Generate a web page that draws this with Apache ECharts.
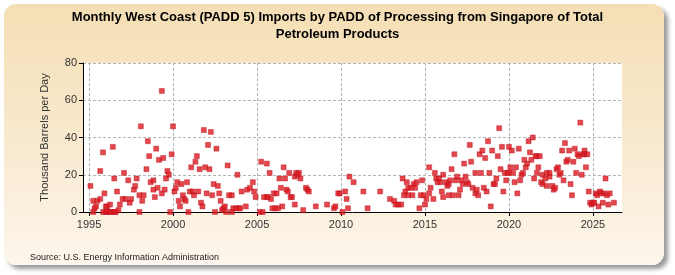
<!DOCTYPE html>
<html>
<head>
<meta charset="utf-8">
<script src="https://cdn.jsdelivr.net/npm/echarts@6/dist/echarts.min.js"></script>
<style>
  html, body { margin: 0; padding: 0; background: #fff; }
  #wrap { position: relative; width: 675px; height: 275px; overflow: hidden; }
  #panel {
    position: absolute; left: 4px; top: 4px; width: 660px; height: 261px;
    border-radius: 12px;
    background: linear-gradient(to bottom, #f5deb4 0%, #f9ebd3 60%, #fdf6ec 100%);
    box-shadow: 4px 4px 4px #9a9a9a;
  }
  #chart { position: absolute; left: 0; top: 0; width: 675px; height: 275px; }
</style>
</head>
<body>
<div id="wrap">
  <div id="panel"></div>
  <div id="chart"></div>
</div>
<script>
// [months since Jan 1995, thousand barrels per day]
const points1995 = [
  [1,14],[3,6],[3,0],[4,2],[5,3],[6,6],[8,7],[8,22],[10,32],[10,0],[11,10],[12,3],[12,0],[13,3],[13,0],
  [15,4],[15,0],[16,0],[17,35],[18,18],[18,0],[19,0],[20,11],[21,1],[22,4],[24,7],[25,21],[26,7],[28,17],
  [29,5],[30,7],[32,12],[33,14],[34,18],[36,9],[36,0],[37,46],[38,6],[39,9],[41,23],[42,38],[43,30],[44,16],
  [46,17],[46,12],[47,8],[48,34],[49,13],[50,28],[52,65],[52,10],[53,29],[54,12],[55,18],[56,22],[57,20],
  [58,0],[59,31],[60,46],[61,11],[62,13],[63,16],[64,6],[65,3],[66,15],[67,9],[68,7],[69,6],[70,16],[71,0],
  [72,11],[73,24],[74,11],[75,9],[76,27],[77,30],[78,11],[79,23],[80,5],[81,3],[82,44],[83,24],[84,10],
  [85,36],[86,23],[87,43],[88,9],[89,15],[90,0],[91,34],[92,14],[93,10],[94,6],[95,1],[96,2],[97,3],[98,0],
  [99,25],[100,9],[102,9],[102,0],[103,2],[105,2],[106,20],[107,2],[108,2],[109,11],[112,3],[113,12],
  [115,13],[117,16],[118,11],[119,8]
];
const points2005 = [
  [122,0],[123,27],[124,0],[125,8],[127,26],[127,8],[128,8],[129,21],[130,7],[131,2],[132,10],[133,2],
  [134,10],[135,2],[136,18],[137,13],[138,3],[139,24],[140,18],[141,12],[142,11],[143,21],[144,8],[145,8],
  [147,19],[147,4],[148,21],[149,20],[150,21],[151,18],[153,1],[155,13],[156,12],[157,11],[162,3],[170,4],
  [175,2],[176,3],[178,10],[179,10],[181,0],[183,11],[184,7],[185,2],[186,19],[189,16],[196,11],[199,2],
  [208,11],[215,7],[218,6],[219,4],[221,4],[223,4],[224,18],[225,9],[226,11],[227,16],[228,13],[228,9],
  [230,13],[231,9],[232,15],[233,13],[234,16],[236,2],[237,9],[238,17],[239,9]
];
const points2015 = [
  [240,4],[241,7],[243,10],[243,24],[244,13],[246,7],[247,21],[248,18],[249,16],[250,18],[251,16],[252,11],
  [253,8],[253,20],[255,16],[256,14],[257,9],[257,15],[258,17],[259,23],[260,9],[261,31],[262,17],[263,19],
  [264,9],[265,12],[266,17],[267,15],[268,26],[269,19],[270,16],[271,15],[272,36],[273,27],[274,13],[276,10],
  [276,21],[277,12],[278,9],[279,31],[280,21],[281,33],[282,13],[283,29],[284,11],[285,38],[286,21],[287,3],
  [288,33],[289,15],[290,15],[291,18],[292,30],[293,45],[294,23],[295,35],[296,11],[297,21],[298,17],[299,21],
  [300,35],[300,21],[301,24],[302,33],[303,21],[304,16],[305,24],[306,10],[307,34],[308,17],[309,20],[310,21],
  [311,28],[312,24],[313,26],[314,38],[315,32],[316,28],[317,40],[318,18],[319,30],[320,21],[320,30],[321,24],
  [322,30],[323,16],[324,20],[324,15],[326,18],[327,14],[327,21],[329,21],[329,19],[331,14],[332,12],[333,13],
  [334,23],[335,24],[336,20],[337,21],[338,33],[339,17],[340,37],[341,27],[342,28],[343,33],[344,15],[345,9],
  [346,27],[347,34],[348,21],[349,31],[350,30],[351,48],[352,20],[353,31],[354,33],[354,31],[355,24],[356,31],
  [357,11],[358,5],[359,4],[360,5],[361,5],[362,10],[363,9],[364,3],[365,11],[366,10],[367,5],[368,10],
  [369,18],[370,9],[371,4],[372,10],[375,5]
];
const yearTicks = [1995, 2000, 2005, 2010, 2015, 2020, 2025];

const font = 'Liberation Sans, Arial, sans-serif';

// months -> decimal year for the value axis
const toYear = p => [1995 + p[0] / 12, p[1]];
const seriesData = points1995.concat(points2005, points2015).map(toYear);

const chart = echarts.init(document.getElementById('chart'), null, { renderer: 'canvas' });

const gridLine = { show: true, lineStyle: { color: '#b4b4b4', type: [3, 2], width: 1 } };

chart.setOption({
    backgroundColor: 'transparent',
    animation: false,
    title: {
        text: 'Monthly West Coast (PADD 5) Imports by PADD of Processing from Singapore of Total\nPetroleum Products',
        left: 'center',
        top: 4,
        textStyle: { fontFamily: font, fontSize: 13, fontWeight: 'bold', color: '#000', lineHeight: 17 }
    },
    graphic: [{
        type: 'text',
        left: 30,
        top: 253,
        style: { text: 'Source: U.S. Energy Information Administration', fontFamily: font, fontSize: 9, fill: '#222' }
    }],
    grid: {
        left: 83, right: 53, top: 63, bottom: 63,
        show: true, backgroundColor: '#fff', borderWidth: 0
    },
    xAxis: {
        type: 'value',
        min: 1994.64,
        max: 2026.73,
        axisLine: { show: true, lineStyle: { color: '#000', width: 1 } },
        axisTick: { show: true, length: 4, customValues: yearTicks, lineStyle: { color: '#000' } },
        axisLabel: {
            customValues: yearTicks, formatter: v => String(v),
            fontFamily: font, fontSize: 11, color: '#333', margin: 7
        },
        splitLine: gridLine
    },
    yAxis: {
        type: 'value',
        min: 0,
        max: 80,
        interval: 20,
        name: 'Thousand Barrels per Day',
        nameLocation: 'middle',
        nameGap: 33,
        nameTextStyle: { fontFamily: font, fontSize: 11, color: '#333' },
        axisLine: { show: true, lineStyle: { color: '#000', width: 1 } },
        axisTick: { show: true, length: 4, lineStyle: { color: '#000' } },
        axisLabel: { fontFamily: font, fontSize: 11, color: '#333', margin: 6 },
        splitLine: gridLine
    },
    series: [{
        type: 'scatter',
        symbol: 'rect',
        symbolSize: 5,
        itemStyle: { color: '#dc1a22', borderColor: '#b8101a', borderWidth: 0.5 },
        data: seriesData
    }]
});
</script>
</body>
</html>
